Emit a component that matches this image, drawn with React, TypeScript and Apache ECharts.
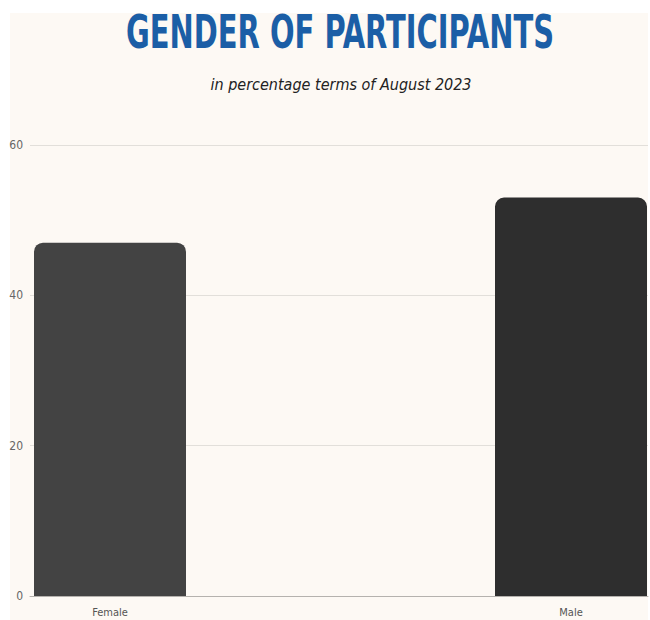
import React, { useEffect, useRef } from "react";
import * as echarts from "echarts";

const categories = ["Female", "Male"];
const values = [47, 53];
const barColors = ["#434343", "#2e2e2e"];
const yTicks = [0, 20, 40, 60];
const titleText = "GENDER OF PARTICIPANTS";
const subtitleText = "in percentage terms of August 2023";

const FONT = "'DejaVu Sans Condensed', 'Open Sans', sans-serif";

export default function App() {
  const ref = useRef<HTMLDivElement>(null);
  useEffect(() => {
    const chart = echarts.init(ref.current!, null, { renderer: "svg" });
    chart.setOption({
      animation: false,
      backgroundColor: "#ffffff",
      graphic: [
        { type: "rect", z: -10, shape: { x: 10, y: 13, width: 638, height: 607 }, style: { fill: "#fdf9f4" } },
        {
          type: "text", x: 340, y: 9, scaleX: 0.7,
          style: { text: titleText, textAlign: "center", textVerticalAlign: "top", fill: "#1b5ea6", font: "bold 46px 'DejaVu Sans Condensed', Roboto, sans-serif" },
        },
        {
          type: "text", x: 341, y: 76,
          style: { text: subtitleText, textAlign: "center", textVerticalAlign: "top", fill: "#222222", font: "italic 16px 'DejaVu Sans Condensed', Roboto, sans-serif" },
        },
      ],
      grid: [
        { left: 30, right: 2, top: 145, bottom: 24 },
        { left: 110, right: 79, top: 145, bottom: 24 },
      ],
      xAxis: [
        {
          gridIndex: 0, type: "value", min: 0, max: 1, show: true,
          axisLine: { show: true, onZero: false, lineStyle: { color: "#b5b2ae", width: 1 } },
          axisTick: { show: false }, axisLabel: { show: false }, splitLine: { show: false },
        },
        {
          gridIndex: 1, type: "category", data: categories, boundaryGap: false,
          axisLine: { show: false }, axisTick: { show: false },
          axisLabel: { color: "#555555", fontSize: 11, margin: 11, fontFamily: FONT },
        },
      ],
      yAxis: [
        {
          gridIndex: 0, type: "value", min: yTicks[0], max: yTicks[yTicks.length - 1], interval: 20,
          axisLine: { show: false }, axisTick: { show: false },
          axisLabel: { color: "#666666", fontSize: 12, margin: 7, fontFamily: FONT },
          splitLine: { show: true, lineStyle: { color: "#e2dfda", width: 1 } },
        },
        {
          gridIndex: 1, type: "value", min: 0, max: 60, interval: 20, show: false,
          splitLine: { show: false },
        },
      ],
      series: [
        {
          type: "bar",
          xAxisIndex: 1, yAxisIndex: 1,
          barWidth: 152,
          data: values.map((v, i) => ({ value: v, itemStyle: { color: barColors[i], borderRadius: [9, 9, 0, 0] } })),
        },
      ],
    });
    return () => chart.dispose();
  }, []);
  return <div ref={ref} style={{ position: "fixed", left: 0, top: 0, width: 650, height: 620 }} />;
}
